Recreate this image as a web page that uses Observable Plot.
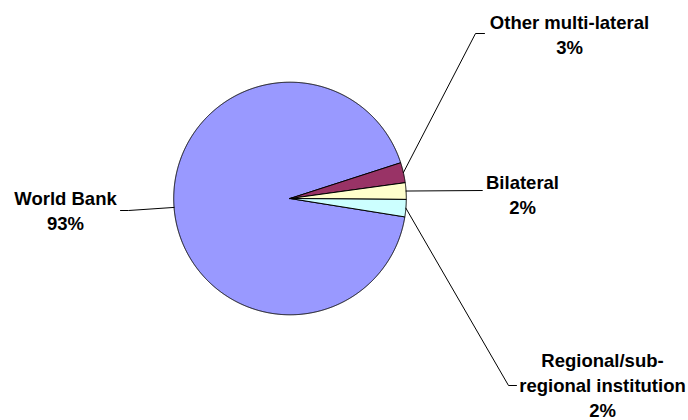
<!DOCTYPE html>
<html><head><meta charset="utf-8">
<script src="https://cdn.jsdelivr.net/npm/d3@7"></script>
<script src="https://cdn.jsdelivr.net/npm/@observablehq/plot@0.6"></script>
<style>body{margin:0;background:#fff}</style>
</head><body><div id="chart"></div>
<script>
// ---- data ----
const categories = ["World Bank", "Other multi-lateral", "Bilateral", "Regional/sub-regional institution"];
const labelNames = ["World Bank", "Other multi-lateral", "Bilateral", "Regional/sub-\nregional institution"];
const shares = [92.5, 2.8, 2.3, 2.4];
const colors = ["#9999FF", "#993366", "#FFFFCC", "#CCFFFF"];

// ---- layout ----
const W = 688, H = 420, cx = 289.5, cy = 198, R = 116.3;
const startDeg = 99.1;
const fontSize = 18.5, lineGap = 24.8;
// centre x and baseline of each label's last line (pixels)
const labelBottom = [[65, 229], [569, 53], [522, 213], [602, 416.5]];
const leaderElbow = [[128, 210], [475, 33], [482, 190], [508, 385]];
const leaderEnd = [[120, 210], [484, 33], [482, 190], [516, 385]];

const toU = px => (px - cx) / R;
const toV = py => (cy - py) / R;

const rad = d3.pie().sort(null).value(d => d)
  .startAngle(startDeg * Math.PI / 180)
  .endAngle(startDeg * Math.PI / 180 + 2 * Math.PI)(shares);

const slices = rad.map((a, i) => {
  const pts = [{x: 0, y: 0}];
  const n = Math.max(2, Math.ceil((a.endAngle - a.startAngle) / (0.25 * Math.PI / 180)));
  for (let k = 0; k <= n; k++) {
    const t = a.startAngle + (a.endAngle - a.startAngle) * k / n;
    pts.push({x: Math.sin(t), y: Math.cos(t)});
  }
  pts.push({x: 0, y: 0});
  return {name: categories[i], color: colors[i], pts};
});

const leaders = rad.map((a, i) => {
  const m = (a.startAngle + a.endAngle) / 2;
  return [
    {x: Math.sin(m), y: Math.cos(m)},
    {x: toU(leaderElbow[i][0]), y: toV(leaderElbow[i][1])},
    {x: toU(leaderEnd[i][0]), y: toV(leaderEnd[i][1])}
  ];
});

const labels = shares.map((v, i) => ({
  text: labelNames[i] + "\n" + Math.round(v) + "%",
  x: toU(labelBottom[i][0]),
  y: toV(labelBottom[i][1])
}));

const marks = [];
slices.forEach(s => marks.push(Plot.line(s.pts, {x: "x", y: "y", fill: s.color, stroke: "#000", strokeWidth: 1, strokeLinejoin: "round"})));
leaders.forEach(l => marks.push(Plot.line(l, {x: "x", y: "y", stroke: "#000", strokeWidth: 1, strokeLinejoin: "miter"})));
marks.push(Plot.text(labels, {
  x: "x", y: "y", text: "text", textAnchor: "middle", lineAnchor: "bottom",
  lineHeight: lineGap / fontSize, fontSize, fontWeight: "bold", fill: "#000"
}));

const chart = Plot.plot({
  width: W, height: H, margin: 0,
  x: {domain: [-1, 1], range: [cx - R, cx + R], axis: null},
  y: {domain: [-1, 1], range: [cy + R, cy - R], axis: null},
  style: {fontFamily: "'Liberation Sans', Arial, sans-serif", background: "#fff", overflow: "visible"},
  marks
});
document.getElementById("chart").appendChild(chart);
</script>
</body></html>
